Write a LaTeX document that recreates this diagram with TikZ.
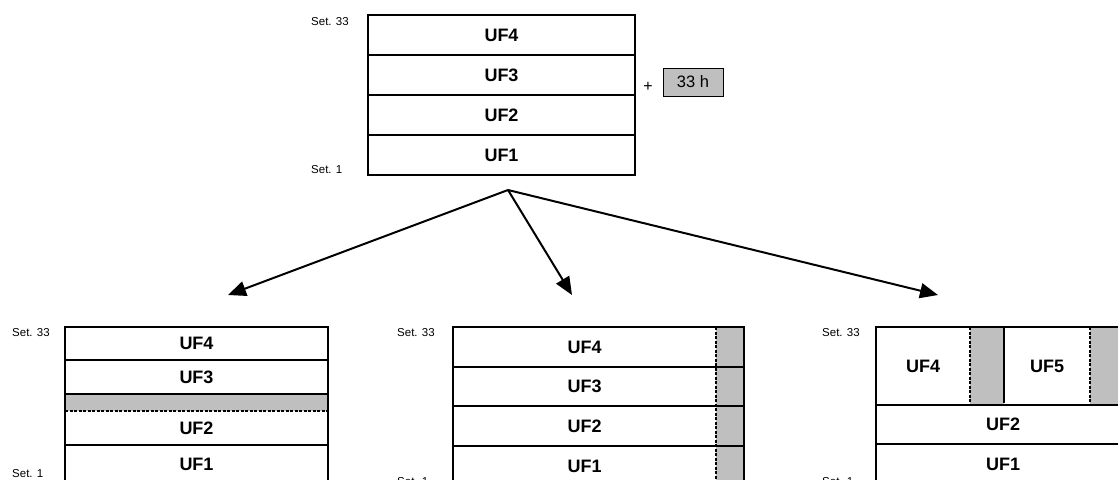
\documentclass[tikz,border=0pt]{standalone}
\usepackage{fontspec}
\setmainfont{Liberation Sans}
\usetikzlibrary{positioning, arrows.meta}

\begin{document}
\begin{tikzpicture}[x=1pt,y=-1pt]
        \tikzset{uf/.style = {inner sep=0pt, outer sep=0pt, font=\fontsize{18}{20}\selectfont\bfseries}}
        \tikzset{band/.style = {fill=black!25, inner sep=0pt, outer sep=0pt}}
        \tikzset{frame/.style = {line width=1.1pt}}
        \tikzset{setlbl/.style = {anchor=west, inner sep=0pt, font=\fontsize{11.5}{13}\selectfont}}
        \tikzset{bigedge/.style = {-{Triangle[length=18pt,width=15pt]}, line width=2pt}}

        \path[use as bounding box, clip] (0,0) rectangle (1118,479);

        % top box
        \node[uf, minimum width=267, minimum height=40] (t4) at (501.5,35) {UF4};
        \node[uf, minimum width=267, minimum height=40] (t3) at (501.5,75) {UF3};
        \node[uf, minimum width=267, minimum height=40] (t2) at (501.5,115) {UF2};
        \node[uf, minimum width=267, minimum height=40] (t1) at (501.5,155) {UF1};
        \draw[frame] (t4.north west) rectangle (t1.south east);
        \foreach \r in {t4,t3,t2}
            \draw[frame] (\r.south west) -- (\r.south east);

        \node[setlbl] (ttop) at (311,22) {Set. 33};
        \node[setlbl] (tbot) at (311,170) {Set. 1};

        \node[font=\fontsize{16}{18}\selectfont, inner sep=0pt] (plus) at (648,87) {+};
        \node[band, draw, line width=1pt, minimum width=60, minimum height=28,
              font=\fontsize{16.5}{18}\selectfont] (hours) at (693,82) {33 h};

        % arrows
        \coordinate (fork) at (508,190);
        \coordinate (toL) at (228,295);
        \coordinate (toM) at (572,295);
        \coordinate (toR) at (938,295);
        \draw[bigedge] (fork) -- (toL);
        \draw[bigedge] (fork) -- (toM);
        \draw[bigedge] (fork) -- (toR);

        % left box
        \node[uf, minimum width=263, minimum height=33] (l4) at (196.5,343.5) {UF4};
        \node[uf, minimum width=263, minimum height=34] (l3) at (196.5,377) {UF3};
        \node[band, minimum width=263, minimum height=17] (lg) at (196.5,402.5) {};
        \node[uf, minimum width=263, minimum height=34] (l2) at (196.5,428) {UF2};
        \node[uf, minimum width=263, minimum height=38] (l1) at (196.5,464) {UF1};
        \draw[frame] (l4.north west) rectangle (l1.south east);
        \foreach \r in {l4,l3,l2}
            \draw[frame] (\r.south west) -- (\r.south east);
        \draw[frame, dashed, dash pattern=on 3pt off 1.5pt] (lg.south west) -- (lg.south east);

        \node[setlbl] (ltop) at (12,333) {Set. 33};
        \node[setlbl] (lbot) at (12,474) {Set. 1};

        % middle box
        \node[band, minimum width=28, minimum height=159] (ms) at (730,406.5) {};
        \node[uf, minimum width=263, minimum height=40] (m4) at (584.5,347) {UF4};
        \node[uf, minimum width=263, minimum height=39] (m3) at (584.5,386.5) {UF3};
        \node[uf, minimum width=263, minimum height=40] (m2) at (584.5,426) {UF2};
        \node[uf, minimum width=263, minimum height=40] (m1) at (584.5,466) {UF1};
        \draw[frame] (m4.north west) rectangle (ms.south east);
        \foreach \r in {m4,m3,m2}
            \draw[frame] (\r.south west) -- (\r.south east -| ms.east);
        \draw[frame, dashed, dash pattern=on 3pt off 1.5pt] (ms.north west) -- (ms.south west);

        \node[setlbl] (mtop) at (397,333) {Set. 33};
        \node[setlbl] (mbot) at (397,482) {Set. 1};

        % right box
        \node[uf, minimum width=94, minimum height=78] (r4) at (923,366) {UF4};
        \node[band, minimum width=34, minimum height=78] (rg1) at (987,366) {};
        \node[uf, minimum width=86, minimum height=78] (r5) at (1047,366) {UF5};
        \node[band, minimum width=40, minimum height=78] (rg2) at (1110,366) {};
        \node[uf, minimum width=254, minimum height=39] (r2) at (1003,424.5) {UF2};
        \node[uf, minimum width=254, minimum height=40] (r1) at (1003,464) {UF1};
        \draw[frame] (r4.north west) rectangle (r1.south east);
        \draw[frame] (r4.south west) -- (r2.north east);
        \draw[frame] (r2.south west) -- (r2.south east);
        \draw[frame] (r5.north west) -- ([yshift=2pt]r5.south west);
        \draw[frame, dashed, dash pattern=on 3pt off 1.5pt] (rg1.north west) -- (rg1.south west);
        \draw[frame, dashed, dash pattern=on 3pt off 1.5pt] (rg2.north west) -- (rg2.south west);

        \node[setlbl] (rtop) at (822,333) {Set. 33};
        \node[setlbl] (rbot) at (822,482) {Set. 1};
\end{tikzpicture}
\end{document}
